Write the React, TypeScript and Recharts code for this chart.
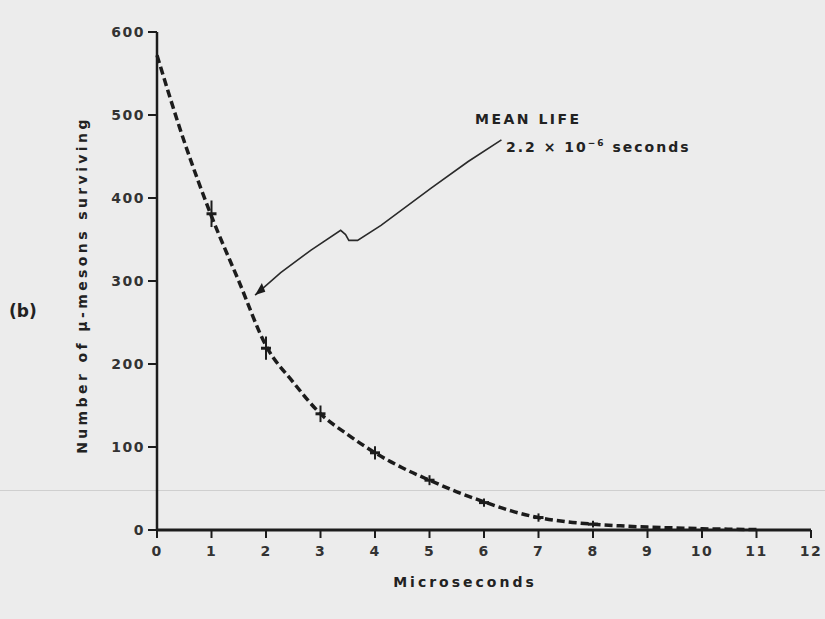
import { ComposedChart, ErrorBar, Line, Scatter, XAxis, YAxis } from 'recharts';

const X_TICKS = [0, 1, 2, 3, 4, 5, 6, 7, 8, 9, 10, 11, 12];
const Y_TICKS = [0, 100, 200, 300, 400, 500, 600];

// dashed decay curve
const CURVE_X = [0, 0.5, 1, 1.5, 2, 2.5, 3, 3.5, 4, 4.5, 5, 5.5, 6, 6.5, 7, 7.5, 8, 8.5, 9, 9.5, 10, 10.5, 11];
const CURVE_Y = [572, 468, 378, 300, 222, 178, 140, 115, 93, 75, 60, 46, 34, 23, 15, 10, 7, 5, 3.5, 2.5, 1.5, 1, 0.5];

// measured points with their error bars
const POINT_X = [1, 2, 3, 4, 5, 6, 7, 8];
const POINT_Y = [381, 219, 140, 93, 60, 33, 15, 7];
const POINT_ERR = [16, 14, 10, 8, 6, 5, 5, 4];

// hand-drawn pointer from the label down to the curve
const ARROW_X = [1.8, 2.27, 2.82, 3.37, 3.46, 3.52, 3.68, 4.11, 5.03, 5.71, 6.32];
const ARROW_Y = [283, 310, 337, 361, 356, 349, 349, 367, 412, 444, 470];

const INK = '#1c1c1c';
const PAPER = '#ececec';
const FONT = '"DejaVu Sans", sans-serif';

const curveData = CURVE_X.map((x, i) => ({ x, y: CURVE_Y[i] }));
const pointData = POINT_X.map((x, i) => ({ x, y: POINT_Y[i], err: POINT_ERR[i] }));
const arrowData = ARROW_X.map((x, i) => ({ x, y: ARROW_Y[i] }));

const tickStyle = { fontSize: 14, fontWeight: 700, fill: '#333', fontFamily: FONT, letterSpacing: 1.5 };

function ArrowTip(props: any) {
	const { cx, cy, index } = props;
	if (index !== 0 || cx == null) return <g key={`d${index}`} />;
	return (
		<polygon
			key="tip"
			points="0,0 13,-5 10,4"
			transform={`translate(${cx},${cy}) rotate(-40)`}
			fill={INK}
		/>
	);
}

function PointMark(props: any) {
	const { cx, cy } = props;
	return (
		<g>
			<line x1={cx - 5} y1={cy} x2={cx + 5} y2={cy} stroke={INK} strokeWidth={3} />
		</g>
	);
}

export default function App() {
	return (
		<div
			style={{
				position: 'absolute',
				left: 0,
				top: 0,
				width: 825,
				height: 619,
				background: PAPER,
				overflow: 'hidden',
				fontFamily: FONT,
				color: '#222',
			}}
		>
			<div style={{ position: 'absolute', left: 0, top: 490, width: 825, height: 1, background: '#cfcfcf' }} />
			<ComposedChart width={825} height={619} margin={{ top: 32, right: 14, bottom: 0, left: 0 }}>
				<XAxis
					type="number"
					dataKey="x"
					domain={[0, 12]}
					ticks={X_TICKS}
					interval={0}
					height={89}
					tick={tickStyle}
					tickSize={8}
					tickMargin={8}
					axisLine={{ stroke: INK, strokeWidth: 3 }}
					tickLine={{ stroke: INK, strokeWidth: 2 }}
					allowDuplicatedCategory={false}
				/>
				<YAxis
					type="number"
					dataKey="y"
					domain={[0, 600]}
					ticks={Y_TICKS}
					interval={0}
					width={157}
					tick={tickStyle}
					tickSize={9}
					tickMargin={3}
					axisLine={{ stroke: INK, strokeWidth: 2.5 }}
					tickLine={{ stroke: INK, strokeWidth: 2 }}
				/>
				<Line
					data={curveData}
					dataKey="y"
					type="monotone"
					stroke={INK}
					strokeWidth={3.5}
					strokeDasharray="8 4"
					dot={false}
					isAnimationActive={false}
				/>
				<Line
					data={arrowData}
					dataKey="y"
					type="linear"
					stroke="#2a2a2a"
					strokeWidth={1.6}
					dot={ArrowTip}
					activeDot={false}
					isAnimationActive={false}
				/>
				<Scatter data={pointData} dataKey="y" shape={PointMark} isAnimationActive={false}>
					<ErrorBar dataKey="err" direction="y" width={0} stroke={INK} strokeWidth={2} />
				</Scatter>
			</ComposedChart>
			<div style={{ position: 'absolute', left: 9, top: 301, fontSize: 17, fontWeight: 700 }}>(b)</div>
			<div
				style={{
					position: 'absolute',
					left: 82,
					top: 285,
					transform: 'translate(-50%, -50%) rotate(-90deg)',
					whiteSpace: 'nowrap',
					fontSize: 14,
					fontWeight: 700,
					letterSpacing: 3.4,
				}}
			>
				Number of μ-mesons surviving
			</div>
			<div
				style={{
					position: 'absolute',
					left: 465,
					top: 582,
					transform: 'translate(-50%, -50%)',
					fontSize: 14,
					fontWeight: 700,
					letterSpacing: 3,
				}}
			>
				Microseconds
			</div>
			<div style={{ position: 'absolute', left: 475, top: 111, fontSize: 14, fontWeight: 700, letterSpacing: 2.5 }}>
				MEAN LIFE
			</div>
			<div style={{ position: 'absolute', left: 506, top: 138, fontSize: 14, fontWeight: 700, letterSpacing: 2 }}>
				2.2 × 10<sup style={{ fontSize: 9 }}>−6</sup> seconds
			</div>
		</div>
	);
}
